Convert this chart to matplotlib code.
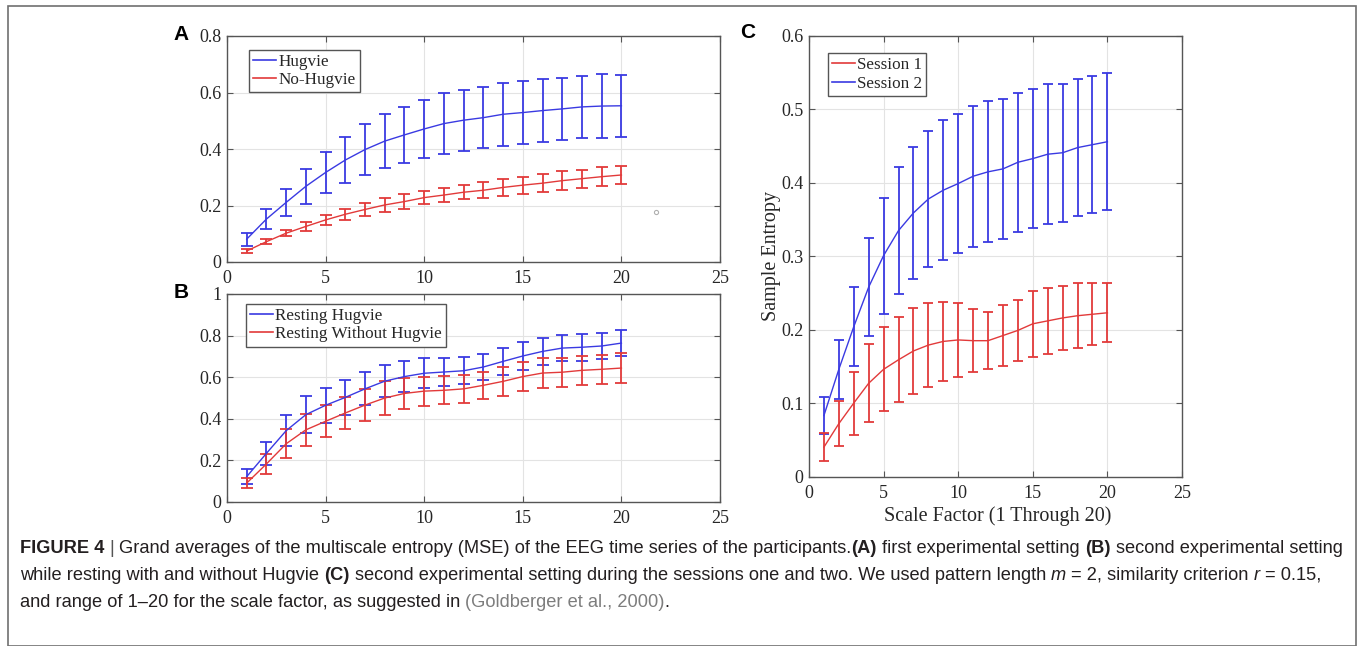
import numpy as np
import matplotlib
matplotlib.use("Agg")
import matplotlib.pyplot as plt
from matplotlib.lines import Line2D
from matplotlib.patches import Rectangle

# ---------------- data ----------------
scale = list(range(1, 21))

a_hug_mean = [0.081, 0.152, 0.211, 0.268, 0.317, 0.361, 0.398, 0.428, 0.450, 0.471,
              0.490, 0.502, 0.511, 0.523, 0.529, 0.536, 0.542, 0.549, 0.552, 0.553]
a_hug_err = [0.023, 0.035, 0.047, 0.061, 0.072, 0.083, 0.090, 0.096, 0.100, 0.103,
             0.108, 0.108, 0.107, 0.112, 0.110, 0.111, 0.110, 0.110, 0.112, 0.110]
a_no_mean = [0.039, 0.072, 0.102, 0.126, 0.149, 0.169, 0.186, 0.202, 0.214, 0.228,
             0.237, 0.247, 0.254, 0.264, 0.272, 0.279, 0.288, 0.295, 0.302, 0.308]
a_no_err = [0.006, 0.008, 0.011, 0.016, 0.019, 0.020, 0.023, 0.024, 0.025, 0.023,
            0.026, 0.024, 0.029, 0.029, 0.030, 0.031, 0.033, 0.032, 0.033, 0.033]
a_speck_x = [21.75]
a_speck_y = [0.177]

b_hug_mean = [0.122, 0.234, 0.343, 0.420, 0.465, 0.503, 0.544, 0.581, 0.603, 0.619,
              0.625, 0.631, 0.649, 0.676, 0.702, 0.724, 0.740, 0.744, 0.750, 0.764]
b_hug_err = [0.035, 0.055, 0.076, 0.089, 0.085, 0.084, 0.080, 0.078, 0.076, 0.072,
             0.066, 0.065, 0.062, 0.064, 0.065, 0.064, 0.063, 0.064, 0.062, 0.063]
b_wo_mean = [0.091, 0.183, 0.280, 0.347, 0.388, 0.428, 0.466, 0.500, 0.522, 0.533,
             0.537, 0.544, 0.561, 0.580, 0.603, 0.620, 0.624, 0.633, 0.638, 0.644]
b_wo_err = [0.026, 0.050, 0.069, 0.078, 0.077, 0.077, 0.077, 0.081, 0.075, 0.070,
            0.067, 0.067, 0.066, 0.068, 0.069, 0.071, 0.070, 0.070, 0.071, 0.071]

c_s1_mean = [0.040, 0.072, 0.100, 0.127, 0.146, 0.159, 0.171, 0.179, 0.184, 0.186,
             0.185, 0.185, 0.192, 0.199, 0.208, 0.212, 0.216, 0.219, 0.221, 0.223]
c_s1_err = [0.019, 0.031, 0.043, 0.053, 0.057, 0.058, 0.058, 0.057, 0.054, 0.050,
            0.043, 0.039, 0.041, 0.042, 0.045, 0.045, 0.044, 0.044, 0.042, 0.040]
c_s2_mean = [0.083, 0.146, 0.204, 0.258, 0.301, 0.335, 0.359, 0.378, 0.390, 0.399,
             0.409, 0.415, 0.419, 0.428, 0.433, 0.439, 0.441, 0.448, 0.452, 0.456]
c_s2_err = [0.025, 0.040, 0.054, 0.067, 0.079, 0.086, 0.090, 0.093, 0.095, 0.095,
            0.096, 0.096, 0.095, 0.095, 0.095, 0.095, 0.094, 0.093, 0.093, 0.093]

x_ticks = [0, 5, 10, 15, 20, 25]
x_ticklabels = ["0", "5", "10", "15", "20", "25"]
a_yticks = [0, 0.2, 0.4, 0.6, 0.8]
a_yticklabels = ["0", "0.2", "0.4", "0.6", "0.8"]
b_yticks = [0, 0.2, 0.4, 0.6, 0.8, 1.0]
b_yticklabels = ["0", "0.2", "0.4", "0.6", "0.8", "1"]
c_yticks = [0, 0.1, 0.2, 0.3, 0.4, 0.5, 0.6]
c_yticklabels = ["0", "0.1", "0.2", "0.3", "0.4", "0.5", "0.6"]

a_labels = ["Hugvie", "No-Hugvie"]
b_labels = ["Resting Hugvie", "Resting Without Hugvie"]
c_labels = ["Session 1", "Session 2"]
c_xlabel = "Scale Factor (1 Through 20)"
c_ylabel = "Sample Entropy"

# ---------------- styling ----------------
W, H = 1358, 646
BLUE = "#3a3ae2"
RED = "#e23a3a"
SERIF = "Liberation Serif"
SANS = "Liberation Sans"
TXT = "#262626"

fig = plt.figure(figsize=(W / 100, H / 100), dpi=100)
fig.patch.set_facecolor("white")

# outer frame
fig.patches.append(Rectangle((8 / W, 0.0), (1356 - 8) / W, 1 - 6 / H,
                             transform=fig.transFigure, fill=False,
                             edgecolor="#707070", linewidth=1.2))


def style_axes(ax, yticks, yticklabels, ylim, labelsize=13):
    ax.set_xlim(0, 25)
    ax.set_ylim(*ylim)
    ax.set_xticks(x_ticks)
    ax.set_xticklabels(x_ticklabels)
    ax.set_yticks(yticks)
    ax.set_yticklabels(yticklabels)
    ax.grid(True, color="#e3e3e3", linewidth=0.8)
    ax.set_axisbelow(True)
    for sp in ax.spines.values():
        sp.set_color("#555555")
        sp.set_linewidth(1.0)
    ax.tick_params(direction="in", top=True, right=True, length=4, width=0.8,
                   color="#555555", labelcolor=TXT, labelsize=labelsize)
    ax.tick_params(axis="x", pad=6)
    ax.tick_params(axis="y", pad=4)
    for lab in ax.get_xticklabels() + ax.get_yticklabels():
        lab.set_fontfamily(SERIF)


def eb(ax, mean, err, color, capsize):
    ax.errorbar(scale, mean, yerr=err, color=color, linewidth=1.0,
                elinewidth=1.3, capsize=capsize, capthick=1.3, zorder=3)


def legend(ax, labels, colors, anchor):
    handles = [Line2D([0], [0], color=c, linewidth=1.2) for c in colors]
    leg = ax.legend(handles, labels, loc="upper left", bbox_to_anchor=anchor,
                    borderaxespad=0, fancybox=False, framealpha=1,
                    edgecolor="#555555", handlelength=1.3, handletextpad=0.15,
                    labelspacing=0.12, borderpad=0.25,
                    prop={"family": SERIF, "size": 12.3})
    leg.get_frame().set_linewidth(1.0)
    for t in leg.get_texts():
        t.set_color(TXT)


# Panel A
axA = fig.add_axes([227 / W, 1 - 262 / H, 493 / W, 226 / H])
style_axes(axA, a_yticks, a_yticklabels, (0, 0.8))
eb(axA, a_hug_mean, a_hug_err, BLUE, 4.5)
eb(axA, a_no_mean, a_no_err, RED, 4.5)
axA.plot(a_speck_x, a_speck_y, "o", markersize=3, markerfacecolor="none",
         markeredgecolor="#b0b0b0", markeredgewidth=0.8)
legend(axA, a_labels, [BLUE, RED], (0.045, 0.94))

# Panel B
axB = fig.add_axes([227 / W, 1 - 502 / H, 493 / W, 208 / H])
style_axes(axB, b_yticks, b_yticklabels, (0, 1.0))
eb(axB, b_hug_mean, b_hug_err, BLUE, 4.5)
eb(axB, b_wo_mean, b_wo_err, RED, 4.5)
legend(axB, b_labels, [BLUE, RED], (0.039, 0.952))

# Panel C
axC = fig.add_axes([809 / W, 1 - 476.5 / H, 373 / W, 440.5 / H])
style_axes(axC, c_yticks, c_yticklabels, (0, 0.6))
eb(axC, c_s2_mean, c_s2_err, BLUE, 3.5)
eb(axC, c_s1_mean, c_s1_err, RED, 3.5)
legend(axC, c_labels, [RED, BLUE], (0.051, 0.961))
axC.set_xlabel(c_xlabel, fontfamily=SERIF, fontsize=14.5, color=TXT)
axC.set_ylabel(c_ylabel, fontfamily=SERIF, fontsize=14.5, color=TXT)
axC.xaxis.set_label_coords(0.505, -0.091)
axC.xaxis.label.set_va("center")
axC.yaxis.set_label_coords(-0.10, 0.5)
axC.yaxis.label.set_va("center")

# panel letters
for txt, px, py in [("A", 181, 34), ("B", 181, 293), ("C", 748, 33)]:
    fig.text(px / W, 1 - py / H, txt, fontfamily=SANS, fontweight="bold",
             fontsize=15, ha="center", va="center", color="black")

# ---------------- caption ----------------
CAP = "#231f20"
LINK = "#7d7d7d"
cap_lines = [
    [("FIGURE 4", "b"), (" | ", "bar"),
     ("Grand averages of the multiscale entropy (MSE) of the EEG time series of the participants.", "n"),
     ("(A)", "b"), (" first experimental setting ", "n"), ("(B)", "b"),
     (" second experimental setting", "n")],
    [("while resting with and without Hugvie ", "n"), ("(C)", "b"),
     (" second experimental setting during the sessions one and two. We used pattern length ", "n"),
     ("m", "i"), (" = 2, similarity criterion ", "n"), ("r", "i"), (" = 0.15,", "n")],
    [("and range of 1\u201320 for the scale factor, as suggested in ", "n"),
     ("(Goldberger et al., 2000)", "link"), (".", "n")],
]

renderer = fig.canvas.get_renderer()


def kw(style, fs):
    d = dict(fontfamily=SANS, fontsize=fs, color=CAP)
    if style == "b":
        d["fontweight"] = "bold"
    elif style == "i":
        d["fontstyle"] = "italic"
    elif style == "link":
        d["color"] = LINK
    elif style == "bar":
        d["color"] = "#555555"
    return d


def measure(s, style, fs):
    t = fig.text(0, 0, s, **kw(style, fs))
    w = t.get_window_extent(renderer).width
    t.remove()
    return w


def space_w(style, fs):
    return measure("x x", style, fs) - measure("xx", style, fs)


def draw_line(pieces, x0, ybase, fs, draw=True):
    x = x0
    for s, style in pieces:
        core = s.strip()
        lead = len(s) - len(s.lstrip())
        trail = len(s) - len(s.rstrip())
        sw = space_w(style, fs)
        x += lead * sw
        if core:
            if draw:
                t = fig.text(x / W, 1 - ybase / H, core, va="baseline",
                             ha="left", **kw(style, fs))
                w = t.get_window_extent(renderer).width
            else:
                w = measure(core, style, fs)
            x += w
        x += trail * sw
    return x - x0


fs0 = 12.0
w0 = draw_line(cap_lines[0], 0, 0, fs0, draw=False)
fs = fs0 * (1345 - 20) / w0
for line, yb in zip(cap_lines, [553, 580, 607]):
    draw_line(line, 20, yb, fs)

fig.savefig("out.png", dpi=100, facecolor="white")
